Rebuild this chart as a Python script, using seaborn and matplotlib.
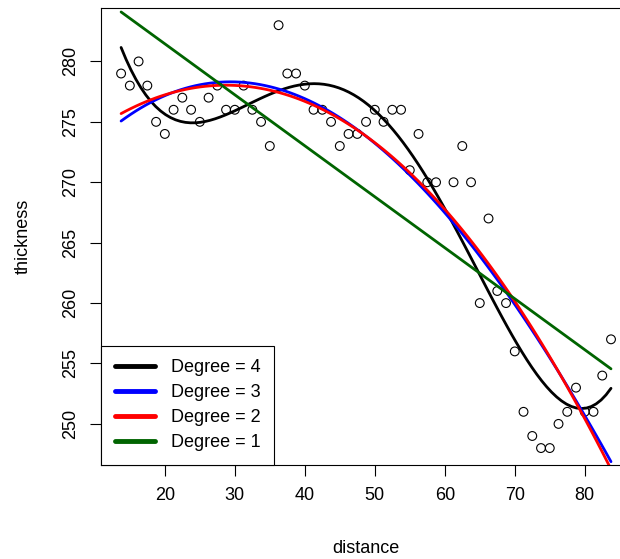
import numpy as np
import pandas as pd
import matplotlib
matplotlib.use("Agg")
import matplotlib.pyplot as plt
import seaborn as sns
from matplotlib.lines import Line2D

# ---- data ----
distance = [13.75, 15.0, 16.25, 17.5, 18.75, 20.0, 21.25, 22.5, 23.75, 25.0,
            26.25, 27.5, 28.75, 30.0, 31.25, 32.5, 33.75, 35.0, 36.25, 37.5,
            38.75, 40.0, 41.25, 42.5, 43.75, 45.0, 46.25, 47.5, 48.75, 50.0,
            51.25, 52.5, 53.75, 55.0, 56.25, 57.5, 58.75, 61.25, 62.5,
            63.75, 65.0, 66.25, 67.5, 68.75, 70.0, 71.25, 72.5, 73.75, 75.0,
            76.25, 77.5, 78.75, 80.0, 81.25, 82.5, 83.75]
thickness = [279, 278, 280, 278, 275, 274, 276, 277, 276, 275,
             277, 278, 276, 276, 278, 276, 275, 273, 283, 279,
             279, 278, 276, 276, 275, 273, 274, 274, 275, 276,
             275, 276, 276, 271, 274, 270, 270, 270, 273,
             270, 260, 267, 261, 260, 256, 251, 249, 248, 248,
             250, 251, 253, 251, 251, 254, 257]
degrees = [4, 3, 2, 1]
colors = ["black", "blue", "red", "#006400"]
legend_labels = ["Degree = 4", "Degree = 3", "Degree = 2", "Degree = 1"]
x_ticks = [20, 30, 40, 50, 60, 70, 80]
y_ticks = [250, 255, 260, 265, 270, 275, 280]

df = pd.DataFrame({"distance": distance, "thickness": thickness})

sns.set_style("ticks")
plt.rcParams["font.family"] = ["Liberation Sans", "DejaVu Sans"]
plt.rcParams["text.color"] = "black"
plt.rcParams["axes.labelcolor"] = "black"
plt.rcParams["xtick.color"] = "black"
plt.rcParams["ytick.color"] = "black"

fig = plt.figure(figsize=(6.2, 5.59), dpi=100)
ax = fig.add_axes([0.1637, 0.1682, 0.8534, 0.8170])

sns.scatterplot(data=df, x="distance", y="thickness", ax=ax, marker="o",
                s=40, facecolor="none", edgecolor="black", linewidth=0.8,
                zorder=2)

for d, c in zip(degrees, colors):
    sns.regplot(data=df, x="distance", y="thickness", order=d, ci=None,
                scatter=False, truncate=True, ax=ax,
                line_kws={"color": c, "lw": 2.0, "zorder": 3})

# R-style 4% padding
xr = max(distance) - min(distance)
yr = max(thickness) - min(thickness)
ax.set_xlim(min(distance) - 0.04 * xr, max(distance) + 0.04 * xr)
ax.set_ylim(min(thickness) - 0.04 * yr, max(thickness) + 0.04 * yr)

ax.set_xticks(x_ticks)
ax.set_yticks(y_ticks)
ax.tick_params(axis="both", direction="out", length=8, width=0.8,
               color="black", labelcolor="black", labelsize=13, pad=8)
plt.setp(ax.get_yticklabels(), rotation=90, va="center")
for s in ax.spines.values():
    s.set_visible(True)
    s.set_color("black")
    s.set_linewidth(0.8)

ax.set_xlabel("distance", fontsize=13, labelpad=26, color="black")
ax.set_ylabel("thickness", fontsize=13, labelpad=22, color="black")

handles = [Line2D([], [], color=c, lw=3.5) for c in colors]
leg = ax.legend(handles, legend_labels, loc="lower left",
                bbox_to_anchor=(0, 0), borderaxespad=0, fontsize=13,
                fancybox=False, framealpha=1, edgecolor="black",
                handlelength=2.2, handletextpad=0.9, borderpad=0.75,
                labelspacing=0.45)
leg.get_frame().set_linewidth(0.8)
for t in leg.get_texts():
    t.set_color("black")

fig.savefig("out.png", dpi=100)
